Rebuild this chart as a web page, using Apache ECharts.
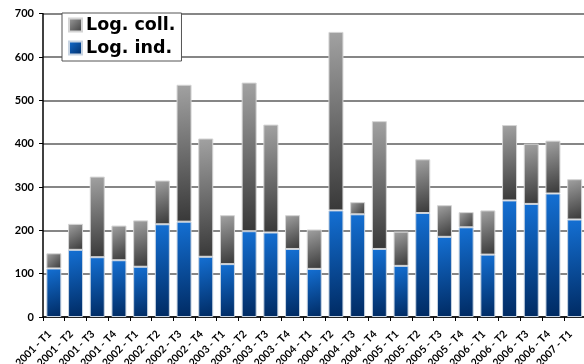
<!DOCTYPE html>
<html>
<head>
<meta charset="utf-8">
<script src="https://cdn.jsdelivr.net/npm/echarts@6/dist/echarts.min.js"></script>
<style>
  html, body { margin: 0; padding: 0; background: #fff; }
  #chart { width: 584px; height: 364px; }
</style>
</head>
<body>
<div id="chart"></div>
<script>
// Quarterly categories
var categories = [
  '2001 - T1', '2001 - T2', '2001 - T3', '2001 - T4',
  '2002 - T1', '2002 - T2', '2002 - T3', '2002 - T4',
  '2003 - T1', '2003 - T2', '2003 - T3', '2003 - T4',
  '2004 - T1', '2004 - T2', '2004 - T3', '2004 - T4',
  '2005 - T1', '2005 - T2', '2005 - T3', '2005 - T4',
  '2006 - T1', '2006 - T2', '2006 - T3', '2006 - T4',
  '2007 - T1'
];
// Individual housing (bottom of each stack)
var logInd = [112, 155, 138, 131, 116, 214, 220, 139, 122, 198, 195, 157, 111,
              246, 237, 157, 118, 240, 185, 207, 144, 269, 261, 285, 225];
// Collective housing (stacked on top)
var logColl = [35, 60, 186, 80, 107, 101, 316, 273, 113, 343, 249, 78, 91,
               412, 28, 295, 79, 124, 73, 35, 102, 174, 139, 122, 93];
var yTicks = [0, 100, 200, 300, 400, 500, 600, 700];

var AXIS_FONT = 'Lato';
var LEGEND_FONT = 'DejaVu Sans';

function grad(c0, c1) {
  return new echarts.graphic.LinearGradient(0, 0, 1, 1, [
    { offset: 0, color: c0 },
    { offset: 1, color: c1 }
  ]);
}
var blueFill = grad('#1470d4', '#002a62');
var grayFill = grad('#a2a2a2', '#383838');

var chart = echarts.init(document.getElementById('chart'), null, { renderer: 'canvas' });
chart.setOption({
  animation: false,
  backgroundColor: '#ffffff',
  grid: { left: 43, top: 13.7, width: 542.5, bottom: 47, containLabel: false, outerBoundsMode: 'none' },
  legend: {
    left: 62, top: 13,
    orient: 'vertical',
    data: ['Log. coll.', 'Log. ind.'],
    backgroundColor: '#ffffff',
    borderColor: '#555',
    borderWidth: 1,
    borderRadius: 0,
    padding: [3, 6, 4, 6],
    itemGap: 5,
    itemWidth: 13,
    itemHeight: 13,
    icon: 'rect',
    textStyle: { fontFamily: LEGEND_FONT, fontWeight: 'bold', fontSize: 17.5, color: '#000', padding: [0, 0, 0, -1] }
  },
  xAxis: {
    type: 'category',
    data: categories,
    axisLine: { lineStyle: { color: '#000', width: 1.5 } },
    axisTick: { show: true, length: 4, lineStyle: { color: '#000', width: 1 } },
    axisLabel: {
      interval: 0, rotate: 45, margin: 11, padding: [0, 6, 0, 0],
      fontFamily: AXIS_FONT, fontWeight: 'bold', fontSize: 10.5, color: '#000'
    }
  },
  yAxis: {
    type: 'value',
    min: yTicks[0], max: yTicks[yTicks.length - 1], interval: 100,
    axisLine: { show: true, lineStyle: { color: '#000', width: 1.5 } },
    axisTick: { show: true, length: 4, lineStyle: { color: '#000', width: 1 } },
    axisLabel: { margin: 9, fontFamily: AXIS_FONT, fontWeight: 'bold', fontSize: 11, color: '#000' },
    splitLine: { show: true, lineStyle: { color: '#5e5e5e', width: 1.5 } }
  },
  series: [
    {
      name: 'Log. ind.', type: 'bar', stack: 'total', barWidth: 15,
      data: logInd,
      itemStyle: { color: blueFill, borderColor: '#c8d4e2', borderWidth: 1 }
    },
    {
      name: 'Log. coll.', type: 'bar', stack: 'total', barWidth: 15,
      data: logColl,
      itemStyle: { color: grayFill, borderColor: '#d4d4d4', borderWidth: 1 }
    }
  ]
});
</script>
</body>
</html>
